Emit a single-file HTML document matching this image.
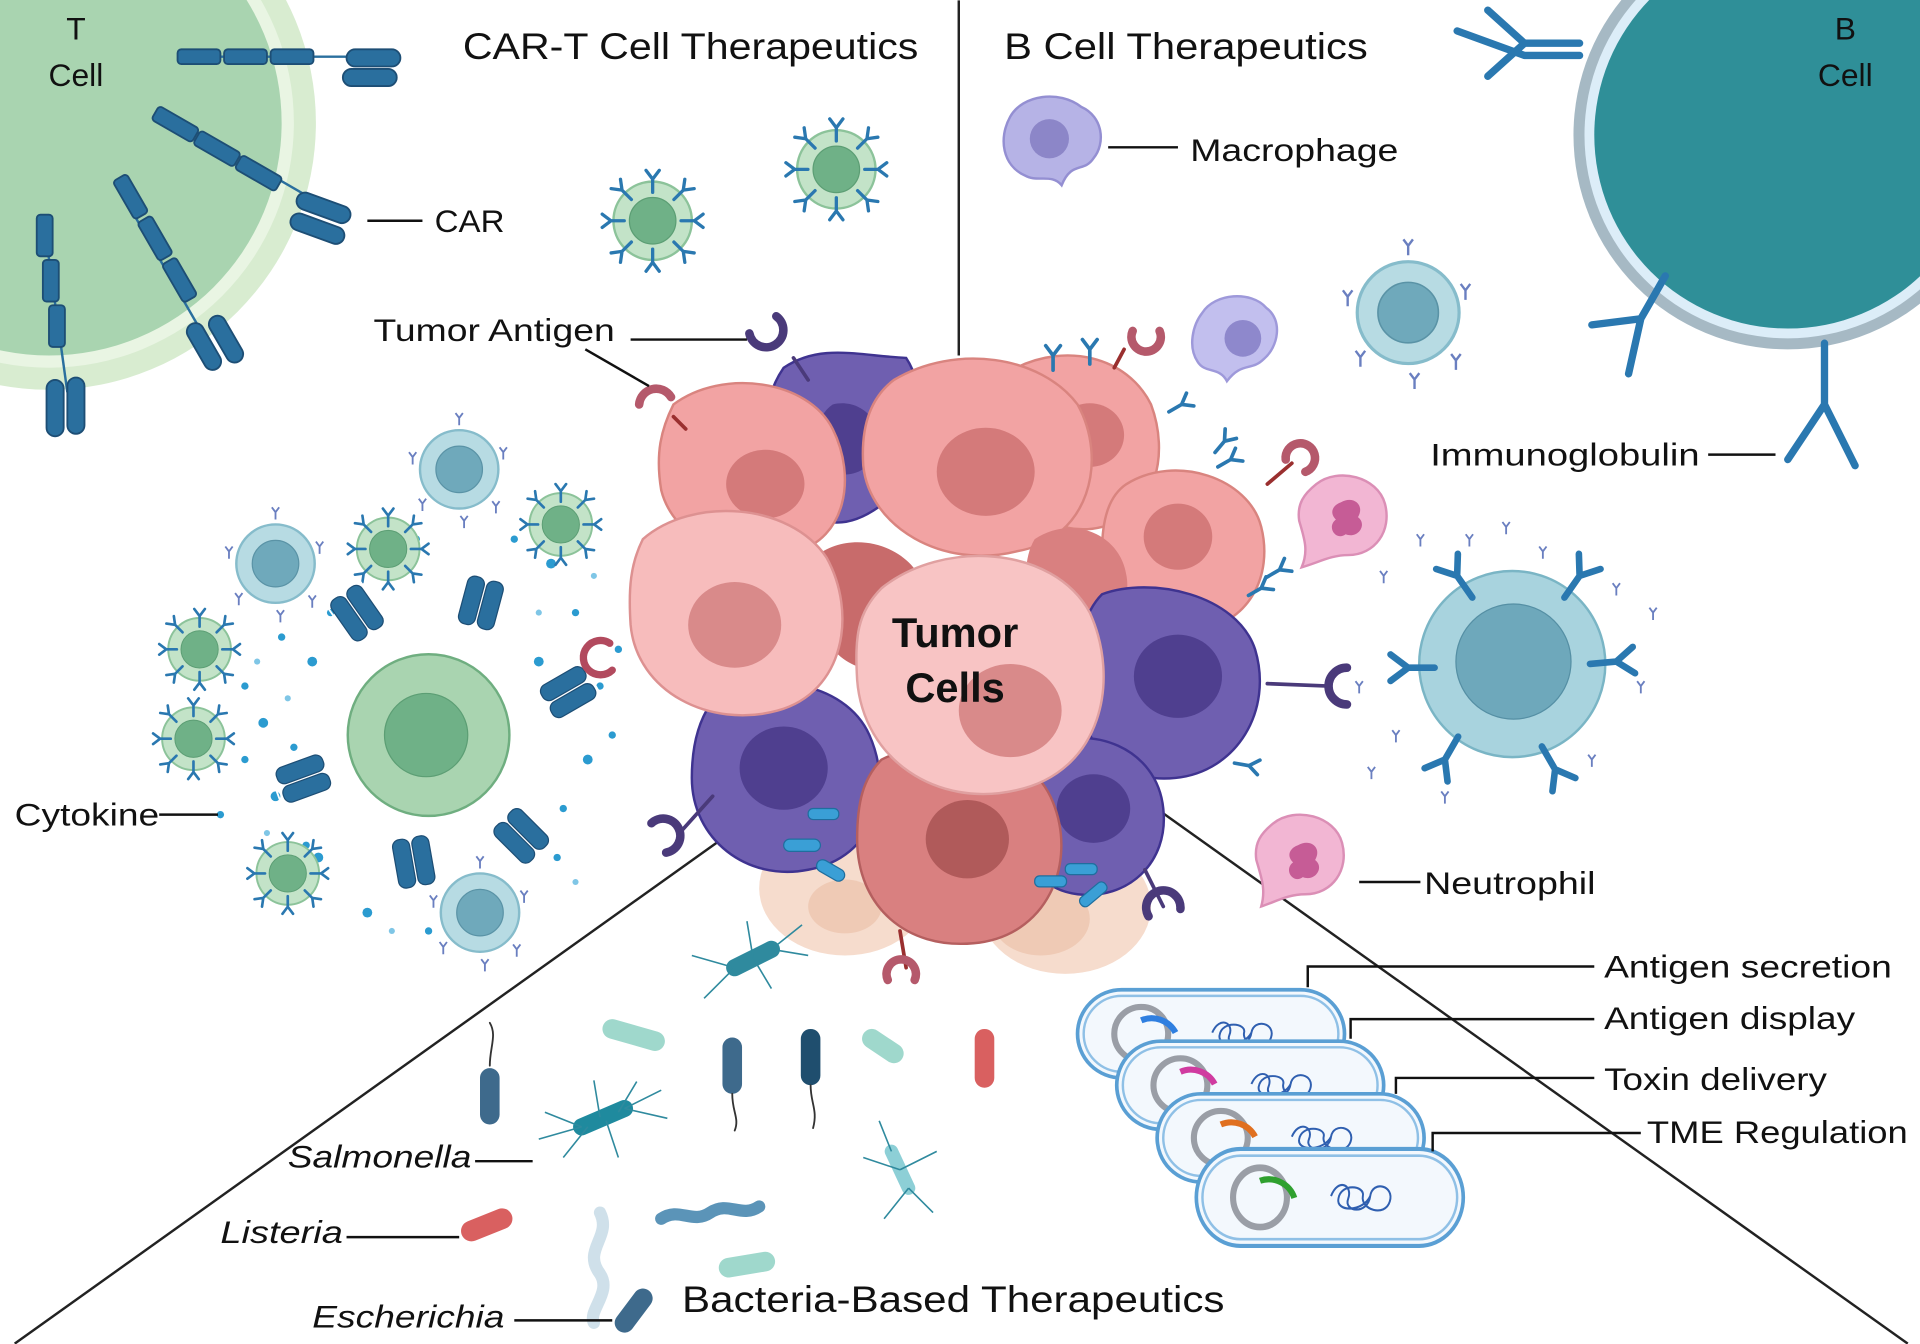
<!DOCTYPE html>
<html><head><meta charset="utf-8"><style>
html,body{margin:0;padding:0;background:#fff}
svg{display:block}
text{font-family:"Liberation Sans",sans-serif;fill:#111}
</style></head><body>
<svg width="1920" height="1344" viewBox="0 0 1568 1097" xmlns="http://www.w3.org/2000/svg">
<defs>
<g id="ab"><path d="M0,12 V0 M0,0 L-6,-8 M0,0 L6,-8" stroke="#2a78b0" stroke-width="3" fill="none" stroke-linecap="round"/></g>
<g id="abs"><path d="M0,6 V0 M0,0 L-3,-4 M0,0 L3,-4" stroke="#6a7fc0" stroke-width="1.5" fill="none"/></g>
<g id="gc"><circle r="32" fill="#c3e3c8" stroke="#8cc39a" stroke-width="2"/><circle r="19" fill="#6fb187" stroke="#5c9e74"/>
<use href="#ab" transform="translate(0,-34) scale(.9)"/><use href="#ab" transform="translate(0,34) rotate(180) scale(.9)"/>
<use href="#ab" transform="translate(-34,0) rotate(-90) scale(.9)"/><use href="#ab" transform="translate(34,0) rotate(90) scale(.9)"/>
<use href="#ab" transform="translate(-25,-25) rotate(-45) scale(.9)"/><use href="#ab" transform="translate(25,25) rotate(135) scale(.9)"/>
<use href="#ab" transform="translate(25,-25) rotate(45) scale(.9)"/><use href="#ab" transform="translate(-25,25) rotate(-135) scale(.9)"/></g>
<g id="bc"><circle r="32" fill="#b7dbe3" stroke="#86bccb" stroke-width="2"/><circle r="19" fill="#6fa9bb" stroke="#5a93a6"/>
<use href="#abs" transform="translate(-38,-10)"/><use href="#abs" transform="translate(36,-14)"/><use href="#abs" transform="translate(-30,28)"/><use href="#abs" transform="translate(30,30)"/><use href="#abs" transform="translate(0,-42)"/><use href="#abs" transform="translate(4,42)"/></g>
<g id="car"><rect x="-7" y="-20" width="14" height="40" rx="6" fill="#2a6f9e" stroke="#1d4e75"/><rect x="9" y="-20" width="14" height="40" rx="6" fill="#2a6f9e" stroke="#1d4e75"/><path d="M-9,-22 h34 v46 h-34z" fill="none" stroke="#fff" stroke-width="1.5" rx="6"/></g>
<g id="caps"><rect width="218" height="72" rx="36" fill="#f3f8fd" stroke="#5a9fd4" stroke-width="3"/><rect x="5" y="5" width="208" height="62" rx="31" fill="none" stroke="#8fc0e6" stroke-width="2"/>
<circle cx="52" cy="36" r="22" fill="none" stroke="#9a9ea6" stroke-width="5"/>
<path d="M110,35 c6,-14 18,-8 14,2 c-4,10 16,12 18,-2 c2,-12 20,-8 16,4 c-4,12 -24,6 -22,-4 c2,-8 -18,-10 -20,2 c-2,10 20,10 26,-2" fill="none" stroke="#2f5fb0" stroke-width="1.6"/></g>
</defs>

<!-- T cell -->
<circle cx="40" cy="100" r="218" fill="#d8ecd0"/>
<circle cx="40" cy="100" r="200" fill="#e9f5e3"/>
<circle cx="40" cy="100" r="190" fill="#a9d4b0"/>
<g stroke="#1d4e75" stroke-width="1.5" fill="#2a6f9e">
<path d="M145,46 H300" stroke="#2a6f9e" stroke-width="2"/>
<rect x="145" y="40" width="35" height="12" rx="3"/><rect x="183" y="40" width="35" height="12" rx="3"/><rect x="221" y="40" width="35" height="12" rx="3"/>
<rect x="283" y="40" width="44" height="14" rx="7"/><rect x="280" y="56" width="44" height="14" rx="7"/>
<path d="M130,90 L260,165" stroke="#2a6f9e" stroke-width="2"/>
<rect x="130" y="86" width="38" height="13" rx="3" transform="rotate(30 130 86)"/><rect x="164" y="106" width="38" height="13" rx="3" transform="rotate(30 164 106)"/><rect x="198" y="126" width="38" height="13" rx="3" transform="rotate(30 198 126)"/>
<rect x="245" y="155" width="46" height="14" rx="7" transform="rotate(20 245 155)"/><rect x="240" y="172" width="46" height="14" rx="7" transform="rotate(20 240 172)"/>
<path d="M95,150 L170,280" stroke="#2a6f9e" stroke-width="2"/>
<rect x="92" y="148" width="13" height="36" rx="3" transform="rotate(-30 92 148)"/><rect x="112" y="182" width="13" height="36" rx="3" transform="rotate(-30 112 182)"/><rect x="132" y="216" width="13" height="36" rx="3" transform="rotate(-30 132 216)"/>
<rect x="150" y="268" width="14" height="42" rx="7" transform="rotate(-30 150 268)"/><rect x="168" y="262" width="14" height="42" rx="7" transform="rotate(-30 168 262)"/>
<path d="M35,175 L55,320" stroke="#2a6f9e" stroke-width="2"/>
<rect x="30" y="175" width="13" height="34" rx="3"/><rect x="35" y="212" width="13" height="34" rx="3"/><rect x="40" y="249" width="13" height="34" rx="3"/>
<rect x="38" y="310" width="14" height="46" rx="7"/><rect x="55" y="308" width="14" height="46" rx="7"/>
</g>

<!-- B cell -->
<circle cx="1460" cy="110" r="175" fill="#a6b9c4"/>
<circle cx="1460" cy="110" r="166" fill="#dcedf8"/>
<circle cx="1460" cy="110" r="158" fill="#2f8f98"/>
<g stroke="#2a78b0" stroke-width="6" fill="none" stroke-linecap="round">
<path d="M1290,35 H1245 M1245,35 L1215,8 M1245,35 L1215,62 M1290,45 H1245 M1245,45 L1190,25"/>
<path d="M1360,225 L1340,260 M1340,260 L1300,265 M1340,260 L1330,305"/>
<path d="M1490,280 L1490,330 M1490,330 L1460,375 M1490,330 L1515,380"/>
</g>

<g stroke="#222" stroke-width="2" fill="none">
<path d="M783,0 V290"/>
<path d="M588,686 L12,1097"/>
<path d="M950,664 L1558,1097"/>
</g>

<use href="#gc" transform="translate(533,180)"/>
<use href="#gc" transform="translate(683,138)"/>
<use href="#bc" transform="translate(1150,255) scale(1.3)"/>
<path d="M825,95 c10,-18 40,-22 58,-8 c18,8 20,30 10,42 c-8,12 -18,2 -26,22 c-8,-10 -20,-2 -30,-8 c-18,-8 -22,-30 -12,-48z" fill="#b6b3e6" stroke="#948fd2" stroke-width="2"/>
<circle cx="857" cy="113" r="16" fill="#8c86c8"/>
<path d="M982,255 c10,-16 40,-18 52,-4 c14,10 10,32 -2,42 c-10,10 -18,2 -30,18 c-6,-12 -18,-6 -24,-16 c-8,-12 -4,-30 4,-40z" fill="#c2bfee" stroke="#9e99da" stroke-width="2"/>
<circle cx="1015" cy="276" r="15" fill="#8e88cc"/>
<path d="M1075,395 c18,-14 50,-6 56,16 c6,22 -8,42 -30,42 c-14,0 -24,6 -38,10 c6,-14 2,-24 -2,-38 c-2,-14 4,-22 14,-30z" fill="#f2b6d3" stroke="#db8fb6" stroke-width="2"/>
<path d="M1095,410 c10,-6 20,2 14,12 c8,6 0,18 -10,14 c-8,6 -16,-6 -8,-12 c-6,-6 -2,-12 4,-14z" fill="#c65c96"/>
<path d="M1040,672 c18,-14 50,-6 56,16 c6,22 -8,42 -30,42 c-14,0 -24,6 -36,10 c4,-14 0,-24 -4,-38 c-2,-14 4,-22 14,-30z" fill="#f2b6d3" stroke="#db8fb6" stroke-width="2"/>
<path d="M1060,690 c10,-6 20,2 14,12 c8,6 0,18 -10,14 c-8,6 -16,-6 -8,-12 c-6,-6 -2,-12 4,-14z" fill="#c65c96"/>

<g fill="#2b9bd0">
<circle cx="200" cy="560" r="3"/><circle cx="215" cy="590" r="4"/><circle cx="230" cy="520" r="3"/><circle cx="225" cy="650" r="4"/><circle cx="250" cy="470" r="3"/><circle cx="260" cy="700" r="4"/><circle cx="300" cy="745" r="4"/><circle cx="350" cy="760" r="3"/><circle cx="420" cy="740" r="4"/><circle cx="455" cy="700" r="3"/><circle cx="480" cy="620" r="4"/><circle cx="470" cy="500" r="3"/><circle cx="450" cy="460" r="4"/><circle cx="420" cy="440" r="3"/><circle cx="340" cy="440" r="3"/><circle cx="490" cy="560" r="3"/><circle cx="200" cy="620" r="3"/><circle cx="440" cy="540" r="4"/><circle cx="255" cy="540" r="4"/><circle cx="240" cy="610" r="3"/><circle cx="250" cy="690" r="3"/><circle cx="460" cy="660" r="3"/><circle cx="180" cy="665" r="3"/><circle cx="270" cy="500" r="3"/><circle cx="505" cy="530" r="3"/><circle cx="500" cy="600" r="3"/>
</g>
<g fill="#7fc6e6"><circle cx="210" cy="540" r="2.5"/><circle cx="235" cy="570" r="2.5"/><circle cx="218" cy="680" r="2.5"/><circle cx="470" cy="720" r="2.5"/><circle cx="485" cy="470" r="2.5"/><circle cx="440" cy="500" r="2.5"/><circle cx="240" cy="720" r="2.5"/><circle cx="320" cy="760" r="2.5"/></g>
<use href="#bc" transform="translate(375,383)"/><use href="#bc" transform="translate(225,460)"/><use href="#bc" transform="translate(392,745)"/>
<use href="#gc" transform="translate(458,428) scale(.8)"/><use href="#gc" transform="translate(317,448) scale(.8)"/>
<use href="#gc" transform="translate(163,530) scale(.8)"/><use href="#gc" transform="translate(158,603) scale(.8)"/><use href="#gc" transform="translate(235,713) scale(.8)"/>
<circle cx="350" cy="600" r="66" fill="#a9d4b0" stroke="#6fae80" stroke-width="2"/>
<circle cx="348" cy="600" r="34" fill="#6fb187" stroke="#5c9e74"/>
<use href="#car" transform="translate(385,490) rotate(15)"/>
<use href="#car" transform="translate(285,505) rotate(-35)"/>
<use href="#car" transform="translate(460,558) rotate(60)"/>
<use href="#car" transform="translate(245,628) rotate(70)"/>
<use href="#car" transform="translate(330,705) rotate(-10)"/>
<use href="#car" transform="translate(420,688) rotate(-45)"/>
<path d="M500,547 a14,14 0 1 1 -2,-22" fill="none" stroke="#b24a5e" stroke-width="6" stroke-linecap="round"/>

<g stroke-width="2">
<ellipse cx="870" cy="740" rx="70" ry="55" fill="#f6dccd"/>
<ellipse cx="690" cy="725" rx="70" ry="55" fill="#f6dccd"/>
<ellipse cx="850" cy="750" rx="40" ry="30" fill="#efcab5"/>
<ellipse cx="690" cy="740" rx="30" ry="22" fill="#efcab5"/>
<path d="M640,300 c30,-20 60,-10 100,-8 c20,30 10,80 -20,120 c-40,30 -70,10 -90,-30 c-10,-30 -5,-60 10,-82z" fill="#6f5fb0" stroke="#3f3390"/>
<path d="M680,330 c20,-5 40,10 38,35 c-5,20 -30,30 -45,15 c-10,-15 -8,-40 7,-50z" fill="#4f3f8f"/>
<path d="M550,330 c40,-30 110,-20 130,20 c20,40 10,90 -30,100 c-50,15 -100,-10 -110,-50 c-5,-30 0,-50 10,-70z" fill="#f2a3a3" stroke="#d9847f"/>
<ellipse cx="625" cy="395" rx="32" ry="28" fill="#d47a7a"/>
<path d="M830,300 c40,-20 90,-10 110,30 c15,40 5,90 -40,100 c-40,10 -80,-20 -90,-60 c-5,-30 0,-55 20,-70z" fill="#f2a3a3" stroke="#d9847f"/>
<ellipse cx="890" cy="355" rx="28" ry="26" fill="#d47a7a"/>
<path d="M730,310 c50,-30 120,-20 150,20 c25,45 10,110 -50,120 c-60,15 -120,-20 -125,-70 c-2,-30 5,-55 25,-70z" fill="#f2a3a3" stroke="#d9847f"/>
<ellipse cx="805" cy="385" rx="40" ry="36" fill="#d47a7a"/>
<path d="M920,395 c40,-25 100,-5 110,35 c10,40 -10,80 -55,85 c-40,5 -75,-25 -75,-65 c0,-25 5,-45 20,-55z" fill="#f2a3a3" stroke="#d9847f"/>
<ellipse cx="962" cy="438" rx="28" ry="27" fill="#d47a7a"/>
<path d="M845,440 c30,-20 70,-5 75,30 c5,30 -20,50 -50,45 c-30,-5 -40,-50 -25,-75z" fill="#d98080"/>
<path d="M900,485 c40,-15 110,0 125,45 c15,50 -15,100 -65,105 c-50,5 -80,-30 -80,-80 c0,-30 5,-55 20,-70z" fill="#6f5fb0" stroke="#3f3390"/>
<ellipse cx="962" cy="552" rx="36" ry="34" fill="#4f3f8f"/>
<path d="M580,575 c40,-30 110,-20 130,25 c20,45 5,100 -50,110 c-50,10 -95,-25 -95,-75 c0,-25 5,-45 15,-60z" fill="#6f5fb0" stroke="#3f3390"/>
<ellipse cx="640" cy="627" rx="36" ry="34" fill="#4f3f8f"/>
<path d="M665,455 c30,-25 80,-10 90,25 c10,40 -20,70 -50,65 c-30,-5 -55,-55 -40,-90z" fill="#c86b6b"/>
<path d="M525,440 c40,-35 120,-30 150,15 c25,45 15,110 -40,125 c-55,15 -115,-15 -120,-70 c-2,-30 0,-50 10,-70z" fill="#f7bcbc" stroke="#dd9191"/>
<ellipse cx="600" cy="510" rx="38" ry="35" fill="#d98a8a"/>
<path d="M850,610 c40,-20 95,0 100,50 c5,45 -30,75 -70,70 c-40,-5 -55,-45 -45,-80 c3,-20 5,-30 15,-40z" fill="#6f5fb0" stroke="#3f3390"/>
<ellipse cx="893" cy="660" rx="30" ry="28" fill="#4f3f8f"/>
<path d="M720,620 c50,-25 120,-15 140,35 c20,50 -5,110 -65,115 c-55,5 -95,-30 -95,-85 c0,-30 5,-50 20,-65z" fill="#d98080" stroke="#b55f5f"/>
<ellipse cx="790" cy="685" rx="34" ry="32" fill="#b05a5a"/>
<path d="M720,480 c50,-40 140,-35 170,20 c25,55 10,130 -60,145 c-65,15 -125,-25 -130,-90 c-2,-35 0,-55 20,-75z" fill="#f8c4c4" stroke="#e0a0a0"/>
<ellipse cx="825" cy="580" rx="42" ry="38" fill="#d98a8a"/>
</g>
<g fill="#3a9fd6" stroke="#1f6e9e">
<rect x="640" y="685" width="30" height="10" rx="5"/><rect x="670" y="700" width="25" height="10" rx="5" transform="rotate(30 670 700)"/><rect x="660" y="660" width="25" height="9" rx="4"/><rect x="845" y="715" width="26" height="9" rx="4"/><rect x="870" y="705" width="26" height="9" rx="4"/><rect x="880" y="735" width="26" height="9" rx="4" transform="rotate(-40 880 735)"/>
</g>
<text x="780" y="528" font-size="34" font-weight="bold" text-anchor="middle">Tumor</text>
<text x="780" y="573" font-size="34" font-weight="bold" text-anchor="middle">Cells</text>
<g fill="none" stroke-width="7" stroke-linecap="round">
<path d="M648,292 L660,310" stroke="#4a3a7a" stroke-width="3"/><path d="M612,272 a14,14 0 1 0 22,-14" stroke="#4a3a7a"/>
<path d="M550,340 L560,350" stroke="#9a2f2f" stroke-width="3"/><path d="M522,330 a14,14 0 0 1 26,-6" stroke="#b5596b"/>
<path d="M1085,560 L1035,558" stroke="#4a3a7a" stroke-width="3"/><path d="M1100,545 a15,15 0 1 0 0,30" stroke="#4a3a7a"/>
<path d="M582,650 L555,680" stroke="#4a3a7a" stroke-width="3"/><path d="M532,672 a14,14 0 1 1 12,24" stroke="#4a3a7a"/>
<path d="M935,710 L950,740" stroke="#4a3a7a" stroke-width="3"/><path d="M938,748 a14,14 0 1 1 26,-6" stroke="#4a3a7a"/>
<path d="M735,760 L740,790" stroke="#9a2f2f" stroke-width="3"/><path d="M725,800 a12,12 0 1 1 22,0" stroke="#b5596b"/>
<path d="M910,300 L918,285" stroke="#9a2f2f" stroke-width="3"/><path d="M925,270 a12,12 0 1 0 22,0" stroke="#b5596b"/>
<path d="M1035,395 L1055,378" stroke="#9a2f2f" stroke-width="3"/><path d="M1050,375 a12,12 0 1 1 16,10" stroke="#b5596b"/>
</g>
<use href="#ab" transform="translate(860,290)"/><use href="#ab" transform="translate(890,285)"/><use href="#ab" transform="translate(965,330) rotate(60)"/><use href="#ab" transform="translate(1005,375) rotate(60)"/><use href="#ab" transform="translate(1045,465) rotate(60)"/><use href="#ab" transform="translate(1030,480) rotate(60)"/><use href="#ab" transform="translate(1020,625) rotate(100)"/><use href="#ab" transform="translate(1000,360) rotate(40)"/>

<g>
<use href="#abs" transform="translate(1130,470)"/><use href="#abs" transform="translate(1200,440)"/><use href="#abs" transform="translate(1260,450)"/><use href="#abs" transform="translate(1320,480)"/><use href="#abs" transform="translate(1140,600)"/><use href="#abs" transform="translate(1120,630)"/><use href="#abs" transform="translate(1180,650)"/><use href="#abs" transform="translate(1340,560)"/><use href="#abs" transform="translate(1300,620)"/><use href="#abs" transform="translate(1160,440)"/><use href="#abs" transform="translate(1350,500)"/><use href="#abs" transform="translate(1110,560)"/><use href="#abs" transform="translate(1230,430)"/>
</g>
<circle cx="1235" cy="542" r="76" fill="#a8d3de" stroke="#7ab5c5" stroke-width="2"/>
<circle cx="1236" cy="540" r="47" fill="#6ea8bb" stroke="#558fa4"/>
<use href="#ab" transform="translate(1190,470) rotate(-35) scale(1.8)"/><use href="#ab" transform="translate(1290,470) rotate(35) scale(1.8)"/>
<use href="#ab" transform="translate(1320,540) rotate(85) scale(1.8)"/><use href="#ab" transform="translate(1150,545) rotate(-90) scale(1.8)"/>
<use href="#ab" transform="translate(1180,620) rotate(-150) scale(1.8)"/><use href="#ab" transform="translate(1270,628) rotate(150) scale(1.8)"/>

<g stroke-linecap="round">
<path d="M400,880 V910" stroke="#3e6a8c" stroke-width="16"/><path d="M400,870 c0,-15 6,-25 0,-35" stroke="#333" fill="none" stroke-width="1.5"/>
<path d="M598,855 V885" stroke="#3e6a8c" stroke-width="16"/><path d="M598,893 c0,15 6,20 2,30" stroke="#333" fill="none" stroke-width="1.5"/>
<path d="M662,848 V878" stroke="#1f4e6e" stroke-width="16"/><path d="M662,886 c0,15 6,20 2,35" stroke="#333" fill="none" stroke-width="1.5"/>
<path d="M804,848 V880" stroke="#d96060" stroke-width="16"/>
<path d="M385,1005 L410,995" stroke="#d96060" stroke-width="17"/>
<path d="M510,1080 L525,1060" stroke="#3e6a8c" stroke-width="16"/>
<path d="M475,920 L510,905" stroke="#1f8a9e" stroke-width="14"/>
<path d="M600,790 L630,775" stroke="#2f8a9e" stroke-width="14"/>
<path d="M728,940 L742,970" stroke="#8dcfd6" stroke-width="11"/>
<path d="M500,840 L535,850" stroke="#9fd8cc" stroke-width="16"/>
<path d="M712,848 L730,860" stroke="#9fd8cc" stroke-width="16"/>
<path d="M595,1035 L625,1030" stroke="#9fd8cc" stroke-width="16"/>
<path d="M540,995 c15,-10 25,5 40,-5 c15,-10 25,5 40,-5" stroke="#5b94b8" stroke-width="10" fill="none"/>
<path d="M490,990 c10,20 -15,30 0,50 c10,15 -10,30 -5,40" stroke="#cfe0ea" stroke-width="10" fill="none"/>
</g>
<g stroke="#2f8a9e" stroke-width="1.3" fill="none">
<path d="M475,920 l-30,-12 M475,920 l-35,10 M490,912 l-5,-30 M510,905 l30,-15 M510,905 l35,8 M495,915 l10,30 M480,920 l-20,25 M505,908 l15,-25"/>
<path d="M600,790 l-35,-10 M600,790 l-25,25 M615,782 l-5,-30 M630,775 l25,-20 M630,775 l30,5 M615,782 l15,25"/>
<path d="M735,955 l-30,-10 M735,955 l30,-15 M728,940 l-10,-25 M742,970 l20,20 M742,970 l-20,25"/>
</g>

<use href="#caps" transform="translate(880,808)"/>
<path d="M932,833 a22,22 0 0 1 28,10" stroke="#2f7fe0" stroke-width="5" fill="none"/>
<use href="#caps" transform="translate(912,850)"/>
<path d="M964,875 a22,22 0 0 1 28,10" stroke="#d03ba0" stroke-width="5" fill="none"/>
<use href="#caps" transform="translate(945,893)"/>
<path d="M997,918 a22,22 0 0 1 28,10" stroke="#e07020" stroke-width="5" fill="none"/>
<g transform="translate(977,938) scale(1.0,1.1)"><use href="#caps"/></g>
<path d="M1029,964 a22,22 0 0 1 28,14" stroke="#2fa02f" stroke-width="5" fill="none"/>

<g stroke="#111" stroke-width="2" fill="none">
<path d="M300,180 H345"/><path d="M905,120 H962"/>
<path d="M515,277 H610"/><path d="M478,285 L530,315"/>
<path d="M1395,371 H1450"/><path d="M130,665 H178"/><path d="M1110,720 H1160"/>
<path d="M1068,806 V789 H1302"/><path d="M1103,848 V832 H1302"/><path d="M1140,893 V880 H1302"/><path d="M1170,940 V925 H1340"/>
<path d="M388,948 H435"/><path d="M283,1010 H375"/><path d="M420,1078 H500"/>
</g>

<g font-size="30">
<text x="378" y="48" textLength="372" lengthAdjust="spacingAndGlyphs">CAR-T Cell Therapeutics</text>
<text x="820" y="48" textLength="297" lengthAdjust="spacingAndGlyphs">B Cell Therapeutics</text>
<text x="557" y="1071" textLength="443" lengthAdjust="spacingAndGlyphs">Bacteria-Based Therapeutics</text>
</g>
<g font-size="26">
<text x="62" y="32" text-anchor="middle">T</text><text x="62" y="70" text-anchor="middle">Cell</text>
<text x="1507" y="32" text-anchor="middle">B</text><text x="1507" y="70" text-anchor="middle">Cell</text>
<text x="355" y="189" textLength="57" lengthAdjust="spacingAndGlyphs">CAR</text>
<text x="972" y="131" textLength="170" lengthAdjust="spacingAndGlyphs">Macrophage</text>
<text x="305" y="278" textLength="197" lengthAdjust="spacingAndGlyphs">Tumor Antigen</text>
<text x="1168" y="380" textLength="220" lengthAdjust="spacingAndGlyphs">Immunoglobulin</text>
<text x="12" y="674" textLength="118" lengthAdjust="spacingAndGlyphs">Cytokine</text>
<text x="1163" y="730" textLength="140" lengthAdjust="spacingAndGlyphs">Neutrophil</text>
<text x="1310" y="798" textLength="235" lengthAdjust="spacingAndGlyphs">Antigen secretion</text>
<text x="1310" y="840" textLength="205" lengthAdjust="spacingAndGlyphs">Antigen display</text>
<text x="1310" y="890" textLength="182" lengthAdjust="spacingAndGlyphs">Toxin delivery</text>
<text x="1345" y="933" textLength="213" lengthAdjust="spacingAndGlyphs">TME Regulation</text>
<text x="235" y="953" font-style="italic" textLength="150" lengthAdjust="spacingAndGlyphs">Salmonella</text>
<text x="180" y="1015" font-style="italic" textLength="100" lengthAdjust="spacingAndGlyphs">Listeria</text>
<text x="255" y="1084" font-style="italic" textLength="157" lengthAdjust="spacingAndGlyphs">Escherichia</text>
</g>
</svg>
</body></html>
